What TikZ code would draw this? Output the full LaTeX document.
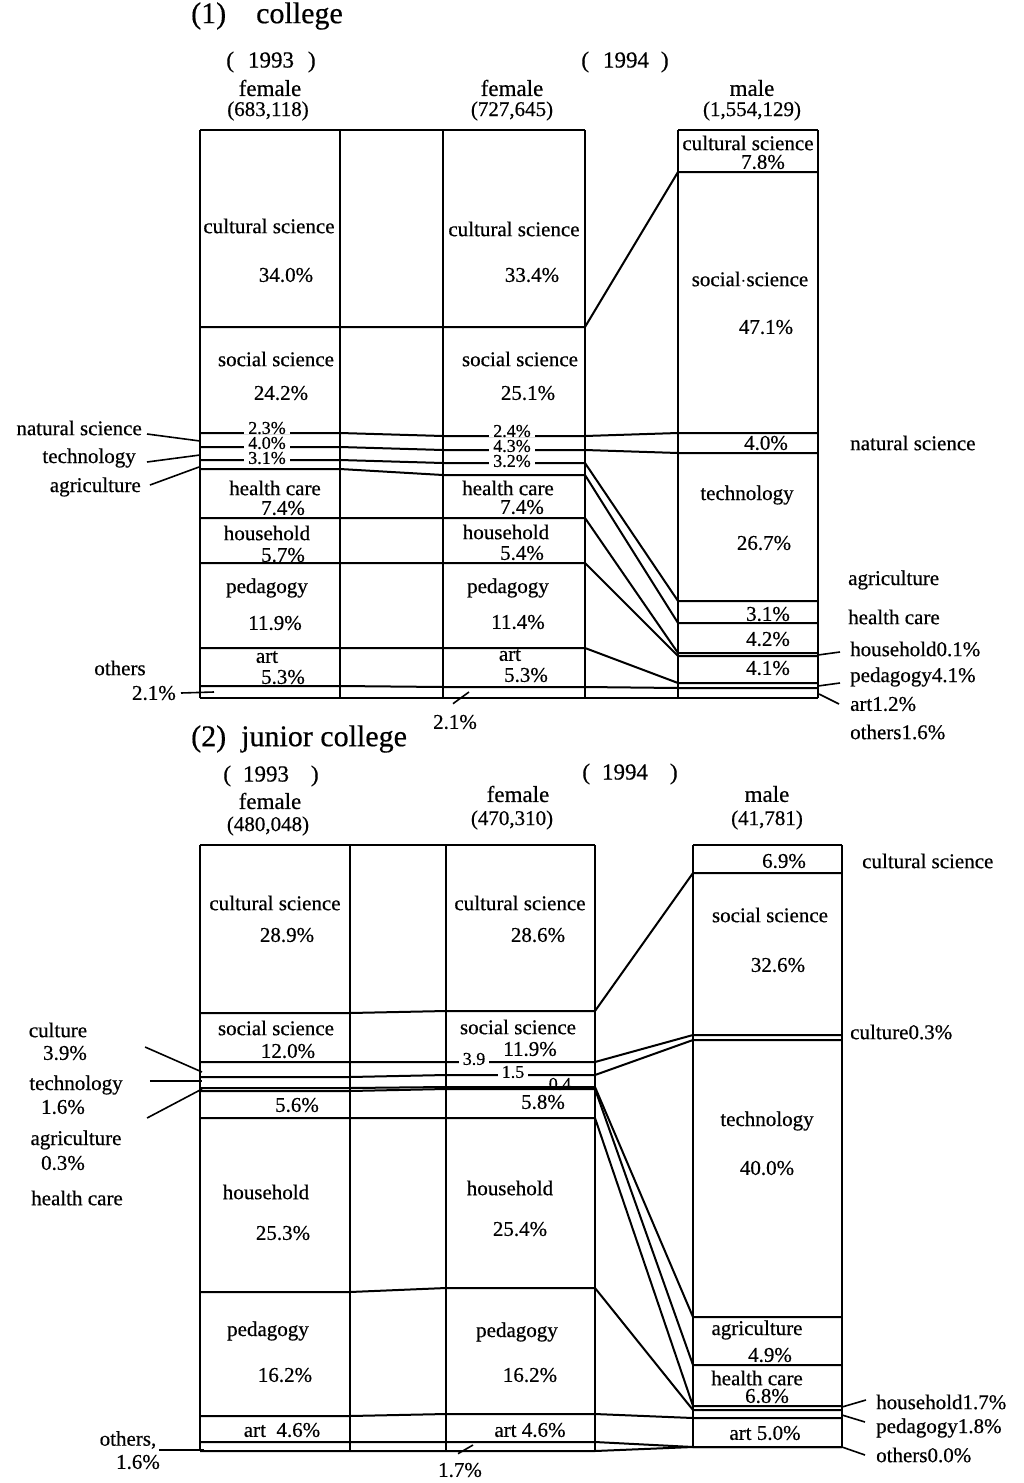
\documentclass[tikz,border=0pt]{standalone}
\usepackage{fontspec}
\setmainfont{Liberation Serif}[FakeBold=0.5]
\newfontfamily\labfont{Liberation Serif}[FakeBold=0.5]
\begin{document}
\begin{tikzpicture}[x=1pt,y=-1pt,
  bar/.style={line width=2pt},
  lead/.style={line width=1.6pt},
  txt/.style={font=\labfont\fontsize{21}{23}\selectfont, inner sep=1pt},
  hdr/.style={font=\labfont\fontsize{23}{25}\selectfont, inner sep=1pt},
  tag/.style={font=\labfont\fontsize{18}{20}\selectfont, fill=white, inner xsep=4pt, inner ysep=0pt},
  ttl/.style={font=\labfont\fontsize{30}{32}\selectfont, inner sep=1pt},
]
\useasboundingbox (0,0) rectangle (1024,1483);

% ================= (1) college =================
\node[ttl, anchor=west] (t1) at (190,16) {(1)\quad college};
\node[hdr] (y93a) at (271,62) {(\hspace{14pt}1993\hspace{14pt})};
\node[hdr] (y94a) at (625,62) {(\hspace{14pt}1994\hspace{12pt})};
\node[hdr] (fa) at (270,88) {female};
\node[txt] (fan) at (268,111) {(683,118)};
\node[hdr] (fb) at (512,88) {female};
\node[txt] (fbn) at (512,111) {(727,645)};
\node[hdr] (ma) at (752,88) {male};
\node[txt] (man) at (752,111) {(1,554,129)};

% frame
\foreach \x in {200,340,443,585} \draw[bar] (\x,130) -- (\x,698);
\foreach \x in {678,818} \draw[bar] (\x,130) -- (\x,698);
\draw[bar] (200,130) -- (585,130);
\draw[bar] (678,130) -- (818,130);
% category boundaries: 1993 / 1994 female / 1994 male
\foreach \a/\b/\c in {327/327/172, 433/436/433, 447/450/453, 460/463/601,
  469/475/623, 518/518/653, 563/563/656, 648/648/683, 686/687/688, 698/698/698}
  \draw[bar] (200,\a) -- (340,\a) -- (443,\b) -- (585,\b) -- (678,\c) -- (818,\c);

% 1993 female
\node[txt] at (269,226) {cultural science};
\node[txt] at (286,275) {34.0\%};
\node[txt] at (276,359) {social science};
\node[txt] at (281,393) {24.2\%};
\node[tag] at (267,428) {2.3\%};
\node[tag] at (267,443) {4.0\%};
\node[tag] at (267,458) {3.1\%};
\node[txt] at (275,488) {health care};
\node[txt] at (283,508) {7.4\%};
\node[txt] at (267,533) {household};
\node[txt] at (283,555) {5.7\%};
\node[txt] at (267,588) {pedagogy};
\node[txt] at (275,623) {11.9\%};
\node[txt] at (267,657) {art};
\node[txt] at (283,677) {5.3\%};

% 1994 female
\node[txt] at (514,229) {cultural science};
\node[txt] at (532,275) {33.4\%};
\node[txt] at (520,359) {social science};
\node[txt] at (528,393) {25.1\%};
\node[tag] at (512,431) {2.4\%};
\node[tag] at (512,446) {4.3\%};
\node[tag] at (512,461) {3.2\%};
\node[txt] at (508,488) {health care};
\node[txt] at (522,507) {7.4\%};
\node[txt] at (506,532) {household};
\node[txt] at (522,553) {5.4\%};
\node[txt] at (508,588) {pedagogy};
\node[txt] at (518,622) {11.4\%};
\node[txt] at (510,655) {art};
\node[txt] at (526,675) {5.3\%};

% 1994 male
\node[txt] at (748,143) {cultural science};
\node[txt] at (763,162) {7.8\%};
\node[txt] at (750,279) {social$\cdot$science};
\node[txt] at (766,327) {47.1\%};
\node[txt] at (766,443) {4.0\%};
\node[txt] at (747,495) {technology};
\node[txt] at (764,543) {26.7\%};
\node[txt] at (768,614) {3.1\%};
\node[txt] at (768,639) {4.2\%};
\node[txt] at (768,668) {4.1\%};

% left labels
\node[txt, anchor=east] (lns1) at (143,428) {natural science};
\node[txt, anchor=east] (lte1) at (137,458) {technology};
\node[txt, anchor=east] (lag1) at (142,487) {agriculture};
\node[txt] (lot1) at (120,668) {others};
\node[txt, anchor=east] (lotp1) at (177,693) {2.1\%};
\coordinate (pns1) at (200,441);
\coordinate (pte1) at (200,455);
\coordinate (pag1) at (199,467);
\coordinate (pot1) at (214,692);
\draw[lead] ([shift={(4,6)}]lns1.east) -- (pns1);
\draw[lead] ([shift={(10,4)}]lte1.east) -- (pte1);
\draw[lead] ([shift={(8,-2)}]lag1.east) -- (pag1);
\draw[lead] ([shift={(4,0)}]lotp1.east) -- (pot1);

% bottom label
\node[txt] (lbt1) at (455,722) {2.1\%};
\coordinate (pbt1) at (469,692);
\draw[lead] ([shift={(-2,-10)}]lbt1.north) -- (pbt1);

% right labels
\node[txt, anchor=west] (rns1) at (849,443) {natural science};
\node[txt, anchor=west] (rag1) at (847,580) {agriculture};
\node[txt, anchor=west] (rhc1) at (847,617) {health care};
\node[txt, anchor=west] (rho1) at (849,649) {household0.1\%};
\node[txt, anchor=west] (rpe1) at (849,677) {pedagogy4.1\%};
\node[txt, anchor=west] (rar1) at (849,704) {art1.2\%};
\node[txt, anchor=west] (rot1) at (849,732) {others1.6\%};
\coordinate (pho1) at (818,655);
\coordinate (ppe1) at (818,686);
\coordinate (par1) at (819,694);
\draw[lead] ([shift={(-9,3)}]rho1.west) -- (pho1);
\draw[lead] ([shift={(-9,6)}]rpe1.west) -- (ppe1);
\draw[lead] ([shift={(-10,0)}]rar1.west) -- (par1);

% ================= (2) junior college =================
\node[ttl, anchor=west] (t2) at (190,739) {(2)\ \ junior college};
\node[hdr] (y93b) at (271,776) {(\hspace{12pt}1993\hspace{22pt})};
\node[hdr] (y94b) at (630,774) {(\hspace{12pt}1994\hspace{22pt})};
\node[hdr] (fc) at (270,801) {female};
\node[txt] (fcn) at (268,826) {(480,048)};
\node[hdr] (fd) at (518,794) {female};
\node[txt] (fdn) at (512,820) {(470,310)};
\node[hdr] (mb) at (767,794) {male};
\node[txt] (mbn) at (767,820) {(41,781)};

% frame
\foreach \x in {200,350,446,595} \draw[bar] (\x,845) -- (\x,1451);
\foreach \x in {693,842} \draw[bar] (\x,845) -- (\x,1447);
\draw[bar] (200,845) -- (595,845);
\draw[bar] (693,845) -- (842,845);
\foreach \a/\b/\c in {1013/1011/873, 1062/1062/1035, 1077/1075/1040, 1088/1087/1317,
  1091/1089/1365, 1118/1118/1406, 1292/1288/1410, 1416/1414/1418, 1442/1442/1447, 1451/1451/1447}
  \draw[bar] (200,\a) -- (350,\a) -- (446,\b) -- (595,\b) -- (693,\c) -- (842,\c);

% 1993 female
\node[txt] at (275,903) {cultural science};
\node[txt] at (287,935) {28.9\%};
\node[txt] at (276,1028) {social science};
\node[txt] at (288,1051) {12.0\%};
\node[txt] at (297,1105) {5.6\%};
\node[txt] at (266,1192) {household};
\node[txt] at (283,1233) {25.3\%};
\node[txt] at (268,1331) {pedagogy};
\node[txt] at (285,1375) {16.2\%};
\node[txt] at (282,1430) {art\ \ 4.6\%};

% 1994 female
\node[txt] at (520,903) {cultural science};
\node[txt] at (538,935) {28.6\%};
\node[txt] at (518,1027) {social science};
\node[txt] at (530,1049) {11.9\%};
\node[tag] at (474,1059) {3.9};
\node[tag] at (513,1072) {1.5};
\node[font=\labfont\fontsize{18}{20}\selectfont, inner sep=1pt] at (560,1084) {0.4};
\node[txt] at (543,1102) {5.8\%};
\node[txt] at (510,1188) {household};
\node[txt] at (520,1229) {25.4\%};
\node[txt] at (517,1332) {pedagogy};
\node[txt] at (530,1375) {16.2\%};
\node[txt] at (530,1430) {art 4.6\%};

% 1994 male
\node[txt] at (784,861) {6.9\%};
\node[txt] at (770,915) {social science};
\node[txt] at (778,965) {32.6\%};
\node[txt] at (767,1121) {technology};
\node[txt] at (767,1168) {40.0\%};
\node[txt] at (757,1330) {agriculture};
\node[txt] at (770,1355) {4.9\%};
\node[txt] at (757,1378) {health care};
\node[txt] at (767,1396) {6.8\%};
\node[txt] at (765,1433) {art 5.0\%};

% left labels
\node[txt] (lcu2) at (58,1030) {culture};
\node[txt] (lcup2) at (65,1053) {3.9\%};
\node[txt] (lte2) at (76,1085) {technology};
\node[txt] (ltep2) at (63,1107) {1.6\%};
\node[txt] (lag2) at (76,1140) {agriculture};
\node[txt] (lagp2) at (63,1163) {0.3\%};
\node[txt] (lhc2) at (77,1198) {health care};
\coordinate (pcu2) at (202,1072);
\coordinate (pte2) at (202,1081);
\coordinate (pag2) at (202,1089);
\draw[lead] ([shift={(57,-6)}]lcup2.east) -- (pcu2);
\draw[lead] ([shift={(26,-4)}]lte2.east) -- (pte2);
\draw[lead] ([shift={(61,11)}]ltep2.east) -- (pag2);
\node[txt] (lot2) at (128,1440) {others,};
\node[txt] (lotp2) at (138,1462) {1.6\%};
\coordinate (pot2) at (204,1450);
\draw[lead] ([shift={(2,10)}]lot2.east) -- (pot2);

% bottom label
\node[txt] (lbt2) at (460,1470) {1.7\%};
\coordinate (pbt2) at (473,1445);
\draw[lead] ([shift={(-2,-8)}]lbt2.north) -- (pbt2);

% right labels
\node[txt, anchor=west] (rcs2) at (861,861) {cultural science};
\node[txt, anchor=west] (rcu2) at (849,1032) {culture0.3\%};
\node[txt, anchor=west] (rho2) at (875,1402) {household1.7\%};
\node[txt, anchor=west] (rpe2) at (875,1428) {pedagogy1.8\%};
\node[txt, anchor=west] (rot2) at (875,1455) {others0.0\%};
\coordinate (pho2) at (842,1407);
\coordinate (ppe2) at (842,1415);
\coordinate (pot2r) at (842,1447);
\draw[lead] ([shift={(-9,-2)}]rho2.west) -- (pho2);
\draw[lead] ([shift={(-10,-6)}]rpe2.west) -- (ppe2);
\draw[lead] ([shift={(-10,0)}]rot2.west) -- (pot2r);

\end{tikzpicture}
\end{document}
